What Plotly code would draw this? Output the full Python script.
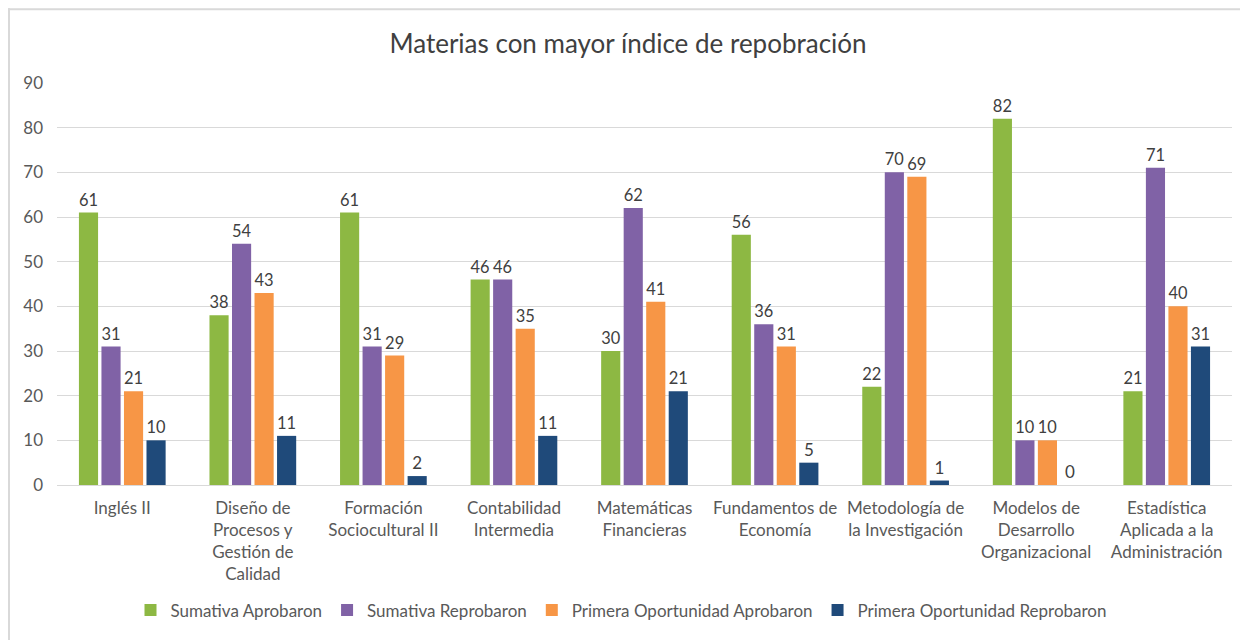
import plotly.graph_objects as go

categories = [
    "Inglés II",
    "Diseño de<br>Procesos y<br>Gestión de<br>Calidad",
    "Formación<br>Sociocultural II",
    "Contabilidad<br>Intermedia",
    "Matemáticas<br>Financieras",
    "Fundamentos de<br>Economía",
    "Metodología de<br>la Investigación",
    "Modelos de<br>Desarrollo<br>Organizacional",
    "Estadística<br>Aplicada a la<br>Administración",
]
sumativa_aprobaron = [61, 38, 61, 46, 30, 56, 22, 82, 21]
sumativa_reprobaron = [31, 54, 31, 46, 62, 36, 70, 10, 71]
primera_aprobaron = [21, 43, 29, 35, 41, 31, 69, 10, 40]
primera_reprobaron = [10, 11, 2, 11, 21, 5, 1, 0, 31]
y_ticks = [0, 10, 20, 30, 40, 50, 60, 70, 80, 90]

series = [
    ("Sumativa Aprobaron", sumativa_aprobaron, "#8DB843"),
    ("Sumativa Reprobaron", sumativa_reprobaron, "#8062A6"),
    ("Primera Oportunidad Aprobaron", primera_aprobaron, "#F79646"),
    ("Primera Oportunidad Reprobaron", primera_reprobaron, "#1F4A7A"),
]

FONT = "Lato, 'Open Sans', sans-serif"
W, H = 1240, 632
L, R, T, B = 49, 16, 75, 153
PW, PH = W - L - R, H - T - B

fig = go.Figure()
for name, vals, color in series:
    fig.add_trace(go.Bar(
        x=categories, y=vals, name=name,
        marker=dict(color=color, line=dict(width=0)),
        text=[str(v) for v in vals], textposition="outside",
        textfont=dict(size=17, color="#404040", family=FONT),
        cliponaxis=False,
    ))

fig.update_layout(
    width=W, height=H,
    margin=dict(l=L, r=R, t=T, b=B),
    paper_bgcolor="white", plot_bgcolor="white",
    title=dict(text="Materias con mayor índice de repobración", x=0.5, xanchor="center",
               y=1 - 36 / H, yanchor="middle",
               font=dict(size=26, color="#404040", family=FONT)),
    barmode="group", bargap=0.31, bargroupgap=0.15,
    font=dict(family=FONT, color="#595959", size=17),
    xaxis=dict(showgrid=False, showline=False, ticks="", tickfont=dict(size=17, color="#595959"),
               tickangle=0, ticklabelstandoff=11),
    yaxis=dict(range=[0, 90], tickvals=y_ticks, showgrid=True, gridcolor="#D9D9D9", gridwidth=1,
               zeroline=True, zerolinecolor="#D9D9D9", zerolinewidth=1,
               tickfont=dict(size=17, color="#595959"), ticks="", ticklabelstandoff=13),
    legend=dict(orientation="h", x=0.48, xanchor="center", y=(T + PH - 605) / PH, yanchor="middle",
                font=dict(size=17, color="#595959"), itemwidth=30, traceorder="normal"),
    showlegend=True,
)
fig.add_shape(type="line", xref="paper", yref="paper", x0=-L / PW, x1=1.05, y0=(T + PH - 1) / PH,
              y1=(T + PH - 1) / PH, line=dict(color="#D9D9D9", width=2))
fig.add_shape(type="line", xref="paper", yref="paper", x0=(1 - L) / PW, x1=(1 - L) / PW,
              y0=(T + PH) / PH, y1=-0.5, line=dict(color="#D9D9D9", width=2))

fig.write_html("out.html")
